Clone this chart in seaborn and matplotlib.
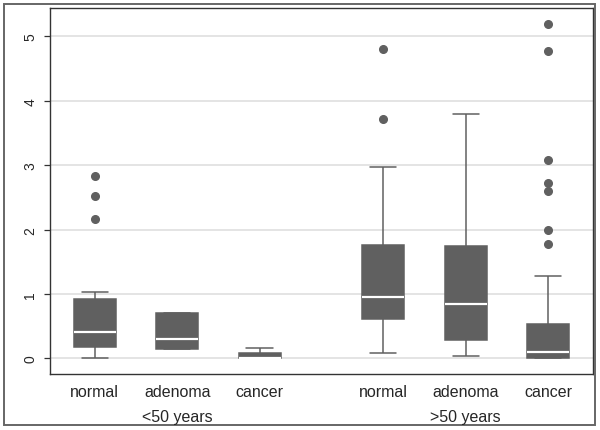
import pandas as pd
import seaborn as sns
import matplotlib.pyplot as plt
from matplotlib.patches import Rectangle

# values (per age group / tissue type)
tissues = ["normal", "adenoma", "cancer"]
age_groups = ["<50 years", ">50 years"]

young_normal = [0.005, 0.06, 0.11, 0.15, 0.175, 0.22, 0.29, 0.35, 0.41,
                0.52, 0.66, 0.80, 0.92, 1.025, 2.16, 2.52, 2.835]
young_adenoma = [0.15, 0.15, 0.295, 0.70, 0.70]
young_cancer = [0.0, 0.0, 0.01, 0.08, 0.16]

old_normal = [0.093, 0.30, 0.45, 0.61, 0.72, 0.85, 0.957, 1.15, 1.45,
              1.76, 2.975, 3.72, 4.80]
old_adenoma = [0.04, 0.15, 0.28, 0.55, 0.843, 1.2, 1.744, 2.6, 3.80]
old_cancer = [0.0, 0.0, 0.0, 0.0, 0.0, 0.0, 0.0, 0.0, 0.0,
              0.01, 0.02, 0.03, 0.05, 0.06, 0.08, 0.09, 0.10,
              0.13, 0.17, 0.22, 0.28, 0.35, 0.42, 0.48, 0.533,
              1.278, 1.78, 1.988, 2.593, 2.717, 3.08, 4.767, 5.195]

series = {
    ("<50 years", "normal"): young_normal,
    ("<50 years", "adenoma"): young_adenoma,
    ("<50 years", "cancer"): young_cancer,
    (">50 years", "normal"): old_normal,
    (">50 years", "adenoma"): old_adenoma,
    (">50 years", "cancer"): old_cancer,
}

# long form table; position = tissue index, second age group shifted right
rows = []
for (age, tissue), vals in series.items():
    pos = age_groups.index(age) * 3.5 + tissues.index(tissue)
    for v in vals:
        rows.append({"age": age, "tissue": tissue, "pos": pos, "value": v})
df = pd.DataFrame(rows)

sns.set_style("white")
plt.rcParams["font.family"] = ["Liberation Sans", "DejaVu Sans"]

fig = plt.figure(figsize=(6, 4.31), dpi=100)
ax = fig.add_axes([0.0838, 0.130, 0.904, 0.848])

box_color = "#606060"
sns.boxplot(
    data=df, x="pos", y="value", native_scale=True,
    color=box_color, linecolor=box_color, saturation=1,
    width=0.51, linewidth=1.1, whis=1.5,
    medianprops={"color": "white", "linewidth": 1.6},
    flierprops={"marker": "o", "markerfacecolor": box_color,
                "markeredgecolor": box_color, "markersize": 5.5},
    capwidths=0.32,
    ax=ax,
)

ax.set_xlim(-0.54, 6.04)
ax.set_ylim(-0.24, 5.43)
ax.set_yticks([0, 1, 2, 3, 4, 5])
ax.set_yticklabels(["0", "1", "2", "3", "4", "5"], rotation=90, va="center",
                   fontsize=10)
ax.set_xticks(sorted(df["pos"].unique()))
ax.set_xticklabels(tissues * 2, fontsize=11.5)
ax.tick_params(axis="x", length=0, pad=7)
ax.tick_params(axis="y", length=4.3, width=0.9, color="#333333", pad=5, left=True)
ax.set_xlabel("")
ax.set_ylabel("")

ax.yaxis.grid(True, color="#dcdcdc", linewidth=1.1)
ax.set_axisbelow(True)
for s in ax.spines.values():
    s.set_color("#333333")
    s.set_linewidth(1.0)

# age group labels under the tissue labels
for i, age in enumerate(age_groups):
    xc = i * 3.5 + 1
    xf = fig.transFigure.inverted().transform(ax.transData.transform((xc, 0)))[0]
    fig.text(xf, 0.032, age, ha="center", va="center", fontsize=11.5)

# outer frame around whole graph
fig.patches.append(Rectangle((4 / 600, 5 / 431), 591 / 600, 421 / 431,
                             transform=fig.transFigure, fill=False,
                             edgecolor="#666666", linewidth=1.4))

fig.savefig("out.png", dpi=100)
